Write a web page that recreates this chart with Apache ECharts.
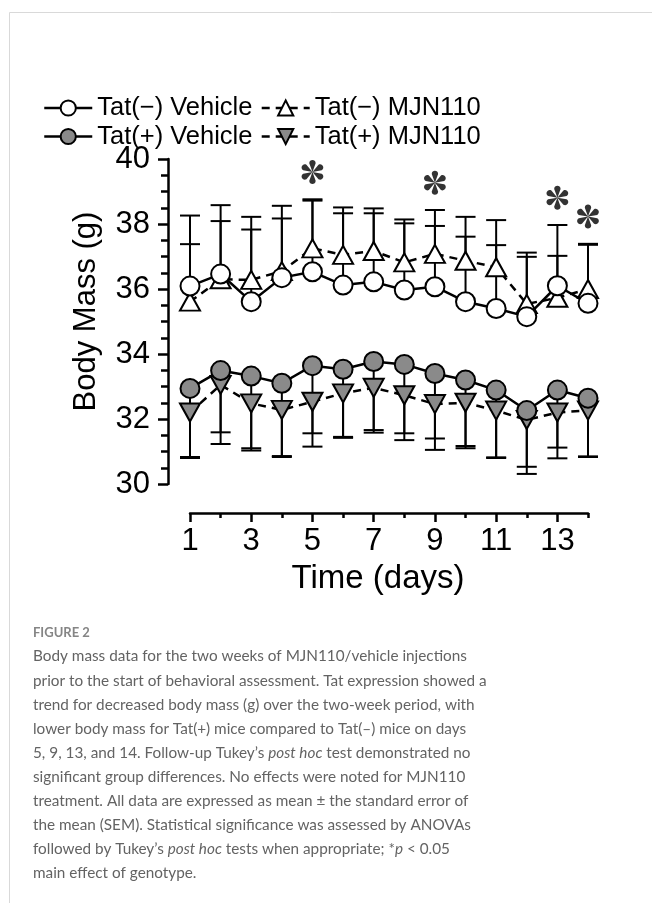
<!DOCTYPE html>
<html><head><meta charset="utf-8">
<script src="https://cdn.jsdelivr.net/npm/echarts@6/dist/echarts.min.js"></script>
<style>html,body{margin:0;padding:0;background:#fff}#c{width:652px;height:903px}</style>
</head><body><div id="c"></div>
<script>
// ---------- data ----------
const days = ['1','2','3','4','5','6','7','8','9','10','11','12','13','14'];
const tatNegVehicle    = [36.09,36.46,35.61,36.35,36.53,36.12,36.22,35.97,36.07,35.61,35.40,35.15,36.10,35.56];
const tatNegVehicleSEM = [2.17,2.12,2.61,2.21,2.23,2.39,2.26,2.17,2.36,2.61,2.72,1.97,1.87,1.83];
const tatNegMJN        = [35.61,36.30,36.28,36.55,37.25,37.05,37.17,36.82,37.08,36.87,36.67,35.54,35.73,36.00];
const tatNegMJNSEM     = [1.77,1.79,1.55,1.62,1.47,1.28,1.16,1.20,0.86,0.74,0.68,1.45,1.29,1.36];
const tatPosVehicle    = [32.94,33.49,33.32,33.10,33.64,33.53,33.77,33.68,33.40,33.20,32.89,32.26,32.89,32.64];
const tatPosVehicleSEM = [2.14,2.26,2.29,2.27,2.49,2.11,2.19,2.33,2.35,2.10,2.09,1.95,2.10,1.81];
const tatPosMJN        = [32.20,33.05,32.48,32.28,32.53,32.79,32.96,32.73,32.46,32.50,32.26,31.97,32.20,32.26];
const tatPosMJNSEM     = [1.37,1.46,1.38,1.42,0.97,1.34,1.30,1.17,1.06,1.33,1.44,1.44,1.08,1.41];
const sigDays = [5, 9, 13, 14];
const seriesNames = ['Tat(\u2212) Vehicle','Tat(\u2212) MJN110','Tat(+) Vehicle','Tat(+) MJN110'];
const captionTitle = 'FIGURE 2';
const captionLines = [
  'Body mass data for the two weeks of MJN110/vehicle injections',
  'prior to the start of behavioral assessment. Tat expression showed a',
  'trend for decreased body mass (g) over the two-week period, with',
  'lower body mass for Tat(+) mice compared to Tat(\u2013) mice on days',
  '5, 9, 13, and 14. Follow-up Tukey\u2019s {i|post hoc} test demonstrated no',
  'significant group differences. No effects were noted for MJN110',
  'treatment. All data are expressed as mean \u00b1 the standard error of',
  'the mean (SEM). Statistical significance was assessed by ANOVAs',
  'followed by Tukey\u2019s {i|post hoc} tests when appropriate; *{i|p} < 0.05',
  'main effect of genotype.'
];

// ---------- style ----------
const FONT = "'Liberation Sans', Arial, sans-serif";
const CAPFONT = "Lato, 'Open Sans', sans-serif";
const GREY = '#8a8a8a';
const CAPSIZE = 15.3;
const CAPCOLOR = '#636363';

function errSeries(means, sems, dir) {
  return {
    type: 'custom', silent: true, z: 2,
    data: means.map((m, i) => [i, m, m + dir * sems[i]]),
    renderItem: (params, api) => {
      const p0 = api.coord([api.value(0), api.value(1)]);
      const p1 = api.coord([api.value(0), api.value(2)]);
      return { type: 'group', children: [
        { type: 'line', shape: { x1: p0[0], y1: p0[1], x2: p1[0], y2: p1[1] }, style: { stroke: '#000', lineWidth: 2 } },
        { type: 'line', shape: { x1: p1[0] - 10, y1: p1[1], x2: p1[0] + 10, y2: p1[1] }, style: { stroke: '#000', lineWidth: 2 } }
      ]};
    }
  };
}

function asteriskPath() {
  let d = '';
  const cx = 50, cy = 50, L = 33, w = 12, c = 16;
  const f = v => v.toFixed(2);
  for (let k = 0; k < 6; k++) {
    const t = k * Math.PI / 3;
    const dx = Math.sin(t), dy = -Math.cos(t), px = Math.cos(t), py = Math.sin(t);
    const x1 = cx + L * dx - w * px, y1 = cy + L * dy - w * py;
    const x2 = cx + L * dx + w * px, y2 = cy + L * dy + w * py;
    d += 'M' + cx + ' ' + cy + ' L' + f(x1) + ' ' + f(y1) +
         ' C' + f(x1 + c * dx) + ' ' + f(y1 + c * dy) + ' ' + f(x2 + c * dx) + ' ' + f(y2 + c * dy) + ' ' + f(x2) + ' ' + f(y2) + ' Z ';
  }
  return 'path://' + d;
}

const sigData = sigDays.map(d => {
  const i = d - 1;
  const top = Math.max(tatNegVehicle[i] + tatNegVehicleSEM[i], tatNegMJN[i] + tatNegMJNSEM[i]);
  return [i, top + 0.84];
});

function lineSeries(name, data, dashed, symbol, fill, rotate, z) {
  return {
    name, type: 'line', data, z,
    symbol, symbolSize: symbol === 'circle' ? 19 : [20, 18], symbolRotate: rotate,
    showSymbol: true, showAllSymbol: true, animation: false,
    emphasis: { disabled: true },
    lineStyle: { color: '#000', width: 2.5, type: dashed ? [8, 6] : 'solid' },
    itemStyle: { color: fill, borderColor: '#000', borderWidth: 2 }
  };
}

const chart = echarts.init(document.getElementById('c'));
const capStyle = { fontFamily: CAPFONT, fontSize: CAPSIZE, fill: CAPCOLOR };
const graphics = [
  { type: 'polyline', silent: true, shape: { points: [[9.5, 903], [9.5, 12.5], [652, 12.5]] }, style: { stroke: '#d9d9d9', lineWidth: 1, fill: null } },
  { type: 'text', x: 33, y: 633, style: { text: captionTitle, fontFamily: CAPFONT, fontSize: 13, fontWeight: 'bold', fill: '#858585', verticalAlign: 'middle' } }
];
captionLines.forEach((t, k) => {
  graphics.push({ type: 'text', x: 33, y: 656.5 + k * 24.1, style: Object.assign({ text: t, verticalAlign: 'middle',
    rich: { i: { fontFamily: CAPFONT, fontSize: CAPSIZE, fill: CAPCOLOR, fontStyle: 'italic' } } }, capStyle) });
});

const legendCommon = { left: 43, itemWidth: 48, itemHeight: 19, itemGap: 8, padding: 0, selectedMode: false,
  lineStyle: { width: 2.5 },
  textStyle: { fontSize: 25.5, color: '#000', fontFamily: FONT } };

chart.setOption({
  animation: false,
  backgroundColor: '#fff',
  textStyle: { fontFamily: FONT },
  grid: { left: 190, right: 64, top: 159, bottom: 419, outerBoundsMode: 'none' },
  legend: [
    Object.assign({ data: [seriesNames[0], seriesNames[1]], top: 95 }, legendCommon),
    Object.assign({ data: [seriesNames[2], seriesNames[3]], top: 123.5 }, legendCommon)
  ],
  xAxis: [
    { type: 'category', data: days, boundaryGap: false, position: 'bottom', offset: 29,
      axisLine: { lineStyle: { color: '#000', width: 2.5 } },
      axisTick: { show: true, interval: 0, length: 5, lineStyle: { color: '#000', width: 2.5 } },
      axisLabel: { show: false }, splitLine: { show: false } },
    { type: 'category', data: days, boundaryGap: false, position: 'bottom', offset: 29,
      axisLine: { show: false },
      axisTick: { show: true, interval: (i) => i % 2 === 0, length: 9, lineStyle: { color: '#000', width: 2.5 } },
      axisLabel: { interval: (i) => i % 2 === 0, fontSize: 31, margin: 13, color: '#000', fontFamily: FONT },
      splitLine: { show: false },
      name: 'Time (days)', nameLocation: 'middle', nameGap: 49,
      nameTextStyle: { fontSize: 33, color: '#000', fontFamily: FONT, verticalAlign: 'top', padding: [0, 22, 0, 0] } }
  ],
  yAxis: {
    type: 'value', min: 30, max: 40, interval: 2, offset: 22,
    axisLine: { show: true, lineStyle: { color: '#000', width: 2.5 } },
    axisTick: { show: true, length: 10, lineStyle: { color: '#000', width: 2.5 } },
    minorTick: { show: true, splitNumber: 4, length: 7, lineStyle: { color: '#000', width: 2.5 } },
    splitLine: { show: false }, minorSplitLine: { show: false },
    axisLabel: { fontSize: 31, color: '#000', margin: 18, fontFamily: FONT },
    name: 'Body Mass (g)', nameLocation: 'middle', nameGap: 66,
    nameTextStyle: { fontSize: 31, color: '#000', fontFamily: FONT, padding: [0, 0, 0, 20] }
  },
  series: [
    errSeries(tatNegVehicle, tatNegVehicleSEM, 1),
    errSeries(tatNegMJN, tatNegMJNSEM, 1),
    errSeries(tatPosVehicle, tatPosVehicleSEM, -1),
    errSeries(tatPosMJN, tatPosMJNSEM, -1),
    lineSeries(seriesNames[1], tatNegMJN, true, 'triangle', '#fff', 0, 3),
    lineSeries(seriesNames[3], tatPosMJN, true, 'triangle', GREY, 180, 3),
    lineSeries(seriesNames[0], tatNegVehicle, false, 'circle', '#fff', 0, 4),
    lineSeries(seriesNames[2], tatPosVehicle, false, 'circle', GREY, 0, 4),
    { type: 'scatter', data: sigData, symbol: asteriskPath(), symbolSize: 24, symbolKeepAspect: true,
      itemStyle: { color: '#000' }, silent: true, z: 5 }
  ],
  graphic: graphics
});
</script>
</body></html>
